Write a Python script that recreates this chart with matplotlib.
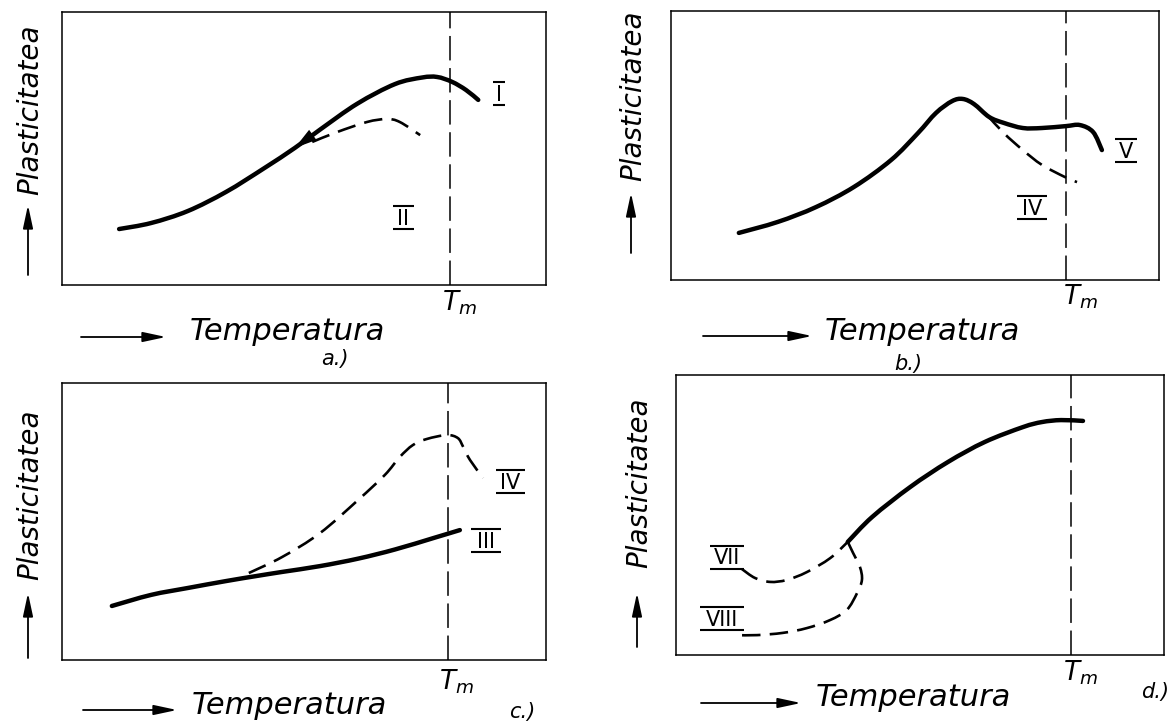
import matplotlib.pyplot as plt
from matplotlib import transforms
from matplotlib.path import Path
from matplotlib.patches import PathPatch, FancyArrowPatch

W, H = 1176, 726

# curve points, in panel units (0..100 on both axes)
a_I_x = [11.8, 18.4, 26.0, 33.9, 41.7, 48.1, 53.3, 61.0, 68.8, 74.4, 77.5, 80.6, 83.5, 86.0]
a_I_y = [20.5, 22.7, 27.1, 34.1, 42.7, 50.2, 56.9, 66.4, 73.6, 76.0, 76.2, 74.4, 71.4, 67.8]
a_II_x = [51.7, 56.8, 63.0, 67.1, 69.8, 74.0]
a_II_y = [52.4, 56.0, 59.7, 60.8, 59.7, 54.9]

b_V_x = [13.9, 21.9, 29.7, 37.5, 45.1, 50.6, 54.3, 57.6, 59.8, 62.1, 65.2, 68.2, 72.1, 76.0, 80.9, 83.8, 86.5, 88.3]
b_V_y = [17.5, 21.6, 27.1, 34.6, 44.6, 54.6, 62.1, 66.5, 67.3, 65.4, 60.6, 58.4, 56.5, 56.5, 57.2, 57.6, 55.0, 48.3]
b_IV_x = [64.8, 68.2, 72.1, 76.0, 80.7, 83.2]
b_IV_y = [61.3, 54.6, 48.3, 42.8, 38.3, 36.4]

c_III_x = [10.3, 18.4, 26.0, 33.9, 40.1, 45.5, 53.3, 61.2, 68.8, 76.7, 82.2]
c_III_y = [19.5, 23.5, 26.0, 28.5, 30.3, 31.8, 33.9, 36.6, 39.9, 44.0, 46.9]
c_IV_x = [38.6, 45.5, 53.3, 61.2, 66.7, 69.8, 72.5, 75.4, 79.5, 81.8, 82.9, 84.3, 87.0]
c_IV_y = [31.4, 37.2, 45.8, 57.8, 66.8, 73.3, 77.6, 79.8, 81.2, 80.1, 76.9, 72.2, 65.7]

d_main_x = [35.2, 40.2, 48.0, 55.7, 63.3, 71.1, 75.0, 78.9, 83.4]
d_main_y = [40.4, 49.3, 60.0, 68.9, 76.1, 81.4, 83.2, 83.9, 83.6]
d_VII_x = [13.5, 16.2, 19.3, 22.7, 26.8, 31.6, 35.2]
d_VII_y = [30.7, 27.5, 26.1, 26.8, 29.6, 34.6, 40.4]
d_VIII_x = [35.2, 36.3, 37.7, 38.1, 37.1, 35.0, 31.6, 26.8, 21.9, 16.6, 12.5]
d_VIII_y = [40.4, 36.4, 31.4, 26.8, 22.1, 16.1, 12.5, 9.6, 7.9, 7.1, 7.1]

tm_pos = [80.2, 80.9, 79.8, 80.9]
panel_tags = ["a.)", "b.)", "c.)", "d.)"]
xlabel = "Temperatura"
ylabel = "Plasticitatea"


def fxy(px, py):
    return px / W, 1 - py / H


def smooth(ax, xs, ys, **kw):
    # bezier path through the read points (catmull-rom handles)
    pts = list(zip(xs, ys))
    n = len(pts)
    verts = [pts[0]]
    codes = [Path.MOVETO]
    for i in range(n - 1):
        p0 = pts[max(i - 1, 0)]
        p1 = pts[i]
        p2 = pts[i + 1]
        p3 = pts[min(i + 2, n - 1)]
        c1 = (p1[0] + (p2[0] - p0[0]) / 6, p1[1] + (p2[1] - p0[1]) / 6)
        c2 = (p2[0] - (p3[0] - p1[0]) / 6, p2[1] - (p3[1] - p1[1]) / 6)
        verts += [c1, c2, p2]
        codes += [Path.CURVE4] * 3
    ax.add_patch(PathPatch(Path(verts, codes), fill=False, **kw))


def numeral(ax, x, y, s, half):
    fig = ax.figure
    tr = transforms.offset_copy(ax.transData, fig=fig, y=-7.5, units="dots")
    ax.text(x, y, s, ha="center", va="baseline", fontsize=15, transform=tr)
    for dy in (-11.5, 11.5):
        tr = transforms.offset_copy(ax.transData, fig=fig, y=dy, units="dots")
        ax.plot([x - half, x + half], [y, y], color="k", lw=1.5, transform=tr,
                solid_capstyle="butt")


def arrow(fig, p0, p1):
    fig.add_artist(FancyArrowPatch(
        fxy(*p0), fxy(*p1), transform=fig.transFigure,
        arrowstyle="-|>,head_length=14,head_width=3", mutation_scale=1,
        color="k", lw=1.3, shrinkA=0, shrinkB=0))


fig = plt.figure(figsize=(W / 100, H / 100), dpi=100)

boxes = [(62, 12, 546, 285), (671, 11, 1159, 280), (62, 383, 546, 660), (676, 375, 1164, 655)]
axes = []
for (l, t, r, b), tm in zip(boxes, tm_pos):
    ax = fig.add_axes([l / W, 1 - b / H, (r - l) / W, (b - t) / H])
    ax.set_xlim(0, 100)
    ax.set_ylim(0, 100)
    ax.set_xticks([])
    ax.set_yticks([])
    for sp in ax.spines.values():
        sp.set_linewidth(1.1)
    ax.axvline(tm, color="k", lw=1.1, dashes=(16, 5))
    axes.append(ax)

solid = dict(edgecolor="k", lw=3.2, capstyle="round", joinstyle="round")
dash = dict(edgecolor="k", lw=1.9, linestyle=(0, (7, 3.5)))

ax = axes[0]
smooth(ax, a_I_x, a_I_y, **solid)
smooth(ax, a_II_x, a_II_y, **dash)
ax.annotate("", xy=(a_I_x[5], a_I_y[5]), xytext=(a_I_x[6], a_I_y[6]),
            arrowprops=dict(arrowstyle="-|>,head_length=1.6,head_width=0.45",
                            color="k", lw=0, shrinkA=0, shrinkB=0))
numeral(ax, 90.3, 70.3, "I", 1.3)
numeral(ax, 70.5, 24.9, "II", 2.2)

ax = axes[1]
smooth(ax, b_V_x, b_V_y, **solid)
smooth(ax, b_IV_x, b_IV_y, **dash)
numeral(ax, 93.2, 48.3, "V", 2.2)
numeral(ax, 74.0, 27.1, "IV", 3.0)

ax = axes[2]
smooth(ax, c_III_x, c_III_y, **solid)
smooth(ax, c_IV_x, c_IV_y, **dash)
numeral(ax, 92.6, 64.3, "IV", 3.0)
numeral(ax, 87.6, 43.3, "III", 3.0)

ax = axes[3]
smooth(ax, d_main_x, d_main_y, **solid)
smooth(ax, d_VII_x, d_VII_y, **dash)
smooth(ax, d_VIII_x, d_VIII_y, **dash)
numeral(ax, 10.5, 35.0, "VII", 3.5)
numeral(ax, 9.4, 13.2, "VIII", 4.5)

# axis captions, drawn on the figure
txt = dict(style="italic", color="k")
ylab_pos = [(30, 110, 275, 205), (633, 96, 253, 193), (30, 495, 658, 593), (639, 483, 647, 593)]
for x, yc, y0, y1 in ylab_pos:
    fig.text(*fxy(x, yc), ylabel, rotation=90, ha="center", va="center", fontsize=20, **txt)
    arrow(fig, (x - 2, y0), (x - 2, y1))

xlab_pos = [(81, 166, 190, 332), (703, 812, 825, 331), (83, 177, 192, 705), (701, 801, 816, 698)]
for x0, x1, xt, y in xlab_pos:
    arrow(fig, (x0, y + 5), (x1, y + 5))
    fig.text(*fxy(xt, y), xlabel, ha="left", va="center", fontsize=22, **txt)

tm_lab = [(459, 303), (1080, 297), (456, 682), (1080, 673)]
for x, y in tm_lab:
    fig.text(*fxy(x, y), r"$T_m$", ha="center", va="center", fontsize=19, **txt)

tag_pos = [(335, 359), (908, 364), (522, 712), (1155, 692)]
for (x, y), s in zip(tag_pos, panel_tags):
    fig.text(*fxy(x, y), s, ha="center", va="center", fontsize=15, **txt)

fig.savefig("out.png", dpi=100, facecolor="white")
